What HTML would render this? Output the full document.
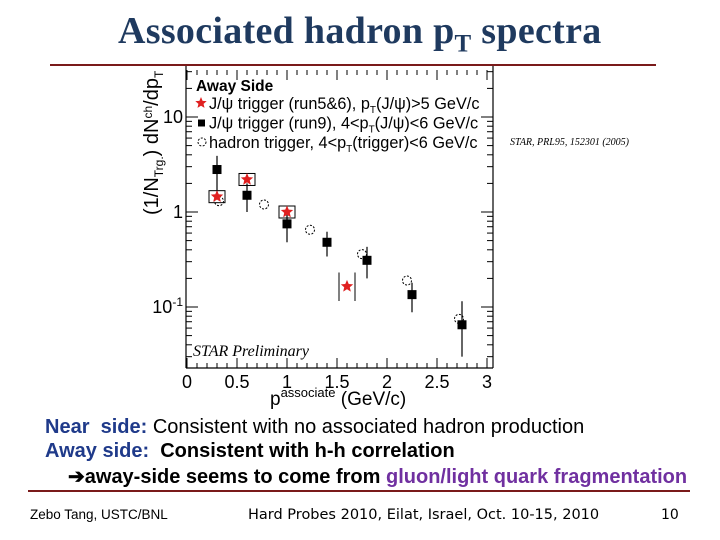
<!DOCTYPE html>
<html><head><meta charset="utf-8"><style>
body{margin:0;width:720px;height:540px;background:#fff;overflow:hidden;position:relative;font-family:"Liberation Sans",sans-serif}
.t{position:absolute;white-space:nowrap}
</style></head><body>
<div class="t" style="left:118px;top:9px;font:bold 38px 'Liberation Serif',serif;color:#1f3a5f;letter-spacing:0.3px">Associated hadron p<sub style="font-size:25px">T</sub> spectra</div>
<div style="position:absolute;left:50px;top:64px;width:606px;height:2px;background:#7a1a1a"></div>
<svg id="chart" width="720" height="540" style="position:absolute;left:0;top:0"></svg>
<div class="t" style="left:510px;top:137px;font:italic 10px 'Liberation Serif',serif">STAR, PRL95, 152301 (2005)</div>
<div class="t" style="left:45px;top:416px;font-size:20px"><b style="color:#1f3a8a">Near&nbsp; side:</b> Consistent with no associated hadron production</div>
<div class="t" style="left:45px;top:440px;font-size:20px;font-weight:bold"><span style="color:#1f3a8a">Away side:</span>&nbsp; Consistent with h-h correlation</div>
<div class="t" style="left:68px;top:464px;font-size:20px;font-weight:bold">➔away-side seems to come from <span style="color:#7030a0">gluon/light quark fragmentation</span></div>
<div style="position:absolute;left:28px;top:490px;width:662px;height:2px;background:#7a1a1a"></div>
<div class="t" style="left:30px;top:507px;font-size:13.5px">Zebo Tang, USTC/BNL</div>
<div class="t" style="left:248px;top:507px;font:14.5px 'DejaVu Sans',sans-serif">Hard Probes 2010, Eilat, Israel, Oct. 10-15, 2010</div>
<div class="t" style="left:661px;top:507px;font:14px 'DejaVu Sans',sans-serif">10</div>
<script>
const sqX=[0.3,0.6,1.0,1.4,1.8,2.25,2.75];
const sqY=[2.8,1.5,0.75,0.48,0.31,0.135,0.065];
const sqHi=[3.9,2.0,1.0,0.62,0.43,0.18,0.115];
const sqLo=[1.55,1.0,0.48,0.34,0.2,0.088,0.03];
const stX=[0.3,0.6,1.0,1.6];
const stY=[1.45,2.2,1.0,0.165];
const stSysBox=[true,true,true,false];
const ciX=[0.32,0.77,1.23,1.75,2.2,2.72];
const ciY=[1.3,1.2,0.65,0.36,0.19,0.075];
const xTicks=[0,0.5,1,1.5,2,2.5,3];
const xTickLabels=["0","0.5","1","1.5","2","2.5","3"];
const svg=document.getElementById('chart');const NS='http://www.w3.org/2000/svg';
const X=v=>187+v*100;const Y=v=>212-Math.log10(v)*95;
function el(t,a,p){const e=document.createElementNS(NS,t);for(const k in a)e.setAttribute(k,a[k]);(p||svg).appendChild(e);return e;}
el('line',{x1:186,x2:186,y1:66,y2:368,stroke:'#000','stroke-width':1.2});
el('line',{x1:186,x2:493,y1:368,y2:368,stroke:'#000','stroke-width':1.2});
el('line',{x1:493,x2:493,y1:66,y2:368,stroke:'#000','stroke-width':1.2});
for(let k=0;k<=30;k++){const v=k/10;const L=k%5==0?10:5;
el('line',{x1:X(v),x2:X(v),y1:368,y2:368-L,stroke:'#000'});el('line',{x1:X(v),x2:X(v),y1:70,y2:70+L,stroke:'#000'});}
xTicks.forEach((v,i)=>{const t=el('text',{x:X(v),y:388,'text-anchor':'middle','font-size':18,'font-family':'Liberation Sans'});t.textContent=xTickLabels[i];
});
for(let d=-2;d<=1;d++)for(let m=1;m<10;m++){const v=m*Math.pow(10,d);const y=Y(v);if(y<66||y>368)continue;const L=m==1?12:6;
el('line',{x1:186,x2:186+L,y1:y,y2:y,stroke:'#000'});el('line',{x1:493,x2:493-L,y1:y,y2:y,stroke:'#000'});}
[[10,'10'],[1,'1'],[0.1,'10']].forEach((p,i)=>{const t=el('text',{x:183,y:Y(p[0])+6,'text-anchor':'end','font-size':18,'font-family':'Liberation Sans'});t.textContent=p[1];
if(i==2){const s=el('tspan',{dy:-7,'font-size':12},t);s.textContent='-1';}
});
const xt=el('text',{x:270,y:405,'font-size':19,'font-family':'Liberation Sans'});xt.innerHTML='p<tspan dy="-8" font-size="13">associate</tspan><tspan dy="8"> (GeV/c)</tspan>';

const yt=el('text',{transform:'translate(158,215) rotate(-90)','font-size':20,'font-family':'Liberation Sans'});yt.innerHTML='(1/N<tspan dy="5" font-size="12">Trg.</tspan><tspan dy="-5">) dN</tspan><tspan dy="-6" font-size="12">ch</tspan><tspan dy="6">/dp</tspan><tspan dy="5" font-size="12">T</tspan>';

const sp=el('text',{x:193,y:356,'font-size':16,'font-style':'italic','font-family':'Liberation Serif'});sp.textContent='STAR Preliminary';

function star(cx,cy,r,c){let p='';for(let i=0;i<10;i++){const a=Math.PI/2+i*Math.PI/5;const rr=i%2?r*0.45:r;p+=(cx+rr*Math.cos(a))+','+(cy-rr*Math.sin(a))+' ';}return el('polygon',{points:p,fill:c});}
const lg=el('text',{x:196,y:91,'font-size':15.5,'font-weight':'bold','font-family':'Liberation Sans'});lg.textContent='Away Side';

const ls=['J/ψ trigger (run5&6), p<tspan dy="4" font-size="10">T</tspan><tspan dy="-4">(J/ψ)&gt;5 GeV/c</tspan>','J/ψ trigger (run9), 4&lt;p<tspan dy="4" font-size="10">T</tspan><tspan dy="-4">(J/ψ)&lt;6 GeV/c</tspan>','hadron trigger, 4&lt;p<tspan dy="4" font-size="10">T</tspan><tspan dy="-4">(trigger)&lt;6 GeV/c</tspan>'];
ls.forEach((s,i)=>{const y=103+i*19.5;const t=el('text',{x:209,y:y+6,'font-size':16.3,'font-family':'Liberation Sans'});t.innerHTML=s;

if(i==0)star(201,y,6,'#e02020');else if(i==1)el('rect',{x:198,y:y-3,width:7,height:7,fill:'#000'});else el('circle',{cx:202,cy:y,r:4,fill:'none',stroke:'#000','stroke-dasharray':'2,1.5'});});
ciX.forEach((v,i)=>{const c=el('circle',{cx:X(v),cy:Y(ciY[i]),r:4.5,fill:'none',stroke:'#000','stroke-dasharray':'2,1.5'});
});
sqX.forEach((v,i)=>{el('line',{x1:X(v),x2:X(v),y1:Y(sqHi[i]),y2:Math.min(368,Y(sqLo[i])),stroke:'#000','stroke-width':1.2});
const r=el('rect',{x:X(v)-4.5,y:Y(sqY[i])-4.5,width:9,height:9,fill:'#000'});
});
stX.forEach((v,i)=>{const x=X(v),y=Y(stY[i]);
if(stSysBox[i])el('rect',{x:x-8,y:y-6,width:16,height:12,fill:'none',stroke:'#000'});
else{el('line',{x1:x-8,x2:x-8,y1:Y(stY[i]*1.4),y2:Y(stY[i]*0.7),stroke:'#000'});el('line',{x1:x+8,x2:x+8,y1:Y(stY[i]*1.4),y2:Y(stY[i]*0.7),stroke:'#000'});}
const s=star(x,y,6.5,'#e02020');});
</script>
</body></html>
